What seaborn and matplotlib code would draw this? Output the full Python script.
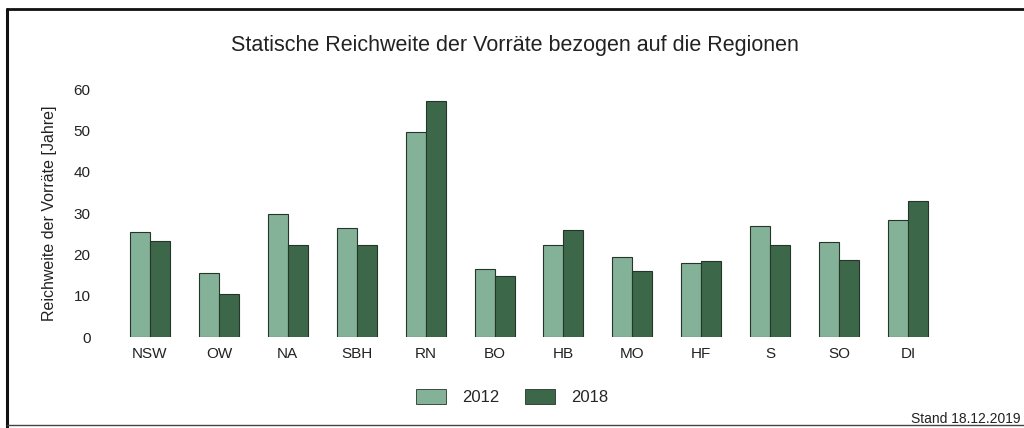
import matplotlib
matplotlib.use("Agg")
import matplotlib.pyplot as plt
import seaborn as sns
import pandas as pd
from matplotlib.lines import Line2D
from matplotlib.patches import Patch

regions = ["NSW", "OW", "NA", "SBH", "RN", "BO", "HB", "MO", "HF", "S", "SO", "DI"]
values_2012 = [25.3, 15.4, 29.7, 26.3, 49.7, 16.4, 22.3, 19.4, 18.0, 26.9, 23.1, 28.3]
values_2018 = [23.2, 10.5, 22.3, 22.3, 57.0, 14.8, 25.9, 15.9, 18.3, 22.3, 18.6, 32.9]
years = ["2012", "2018"]
yticks = [0, 10, 20, 30, 40, 50, 60]

title = "Statische Reichweite der Vorräte bezogen auf die Regionen"
ylabel = "Reichweite der Vorräte [Jahre]"
stand = "Stand 18.12.2019"

df = pd.DataFrame({
    "Region": regions * 2,
    "Jahr": [years[0]] * len(regions) + [years[1]] * len(regions),
    "Wert": values_2012 + values_2018,
})

sns.set_theme(style="white")
plt.rcParams["font.family"] = ["Liberation Sans", "DejaVu Sans"]

colors = {"2012": "#84b298", "2018": "#3c6849"}

fig = plt.figure(figsize=(10.24, 4.28), dpi=100)
ax = fig.add_axes([0.1128, 0.2126, 0.8076, 0.5794])

sns.barplot(data=df, x="Region", y="Wert", hue="Jahr", palette=colors,
            width=0.58, gap=0, edgecolor="#26352a", linewidth=0.8,
            saturation=1, ax=ax, legend=False)

ax.set_ylim(0, 60)
ax.set_yticks(yticks)
ax.set_yticklabels([str(t) for t in yticks])
ax.set_xlim(-0.5, len(regions) - 0.5)
ax.tick_params(axis="y", length=0, pad=18, labelsize=11, labelcolor="#222222")
ax.tick_params(axis="x", length=0, pad=7, labelsize=11, labelcolor="#222222")
ax.set_xlabel("")
ax.set_ylabel(ylabel, fontsize=11.5, color="#222222", labelpad=12)
for s in ax.spines.values():
    s.set_visible(False)
ax.grid(False)

fig.text(0.503, 0.893, title, ha="center", va="center", fontsize=15.5, color="#222222")

handles = [Patch(facecolor=colors[y], edgecolor="#26352a", linewidth=0.6) for y in years]
fig.legend(handles, years, loc="center", bbox_to_anchor=(0.5, 0.072), ncol=2,
           frameon=False, fontsize=12, handlelength=1.8, handleheight=1.0,
           columnspacing=1.5, handletextpad=1.0)

fig.text(0.997, 0.02, stand, ha="right", va="center", fontsize=10, color="#222222")

# border lines
fig.add_artist(Line2D([0.007, 0.007], [0.0, 0.978], transform=fig.transFigure,
                      color="#111111", linewidth=2.2))
fig.add_artist(Line2D([0.007, 1.0], [0.978, 0.978], transform=fig.transFigure,
                      color="#111111", linewidth=2.0))
fig.add_artist(Line2D([0.007, 1.0], [0.006, 0.006], transform=fig.transFigure,
                      color="#444444", linewidth=1.0))

fig.savefig("out.png", dpi=100, facecolor="white")
